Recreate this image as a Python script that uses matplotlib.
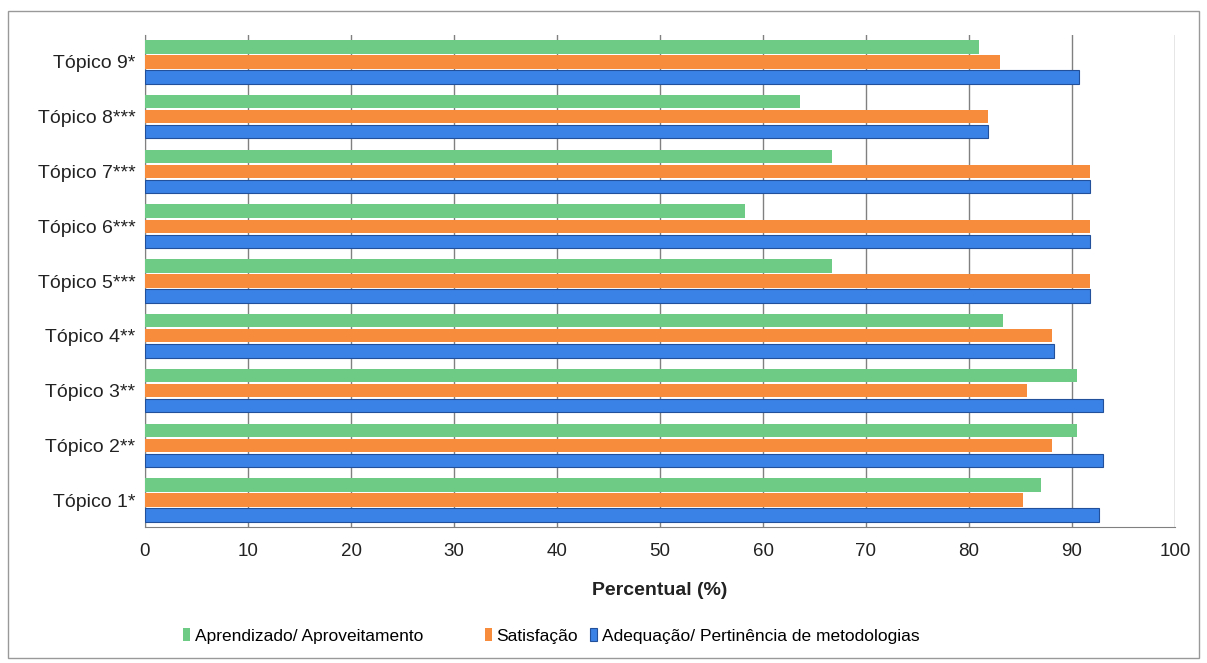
import matplotlib
matplotlib.use("Agg")
import matplotlib.pyplot as plt
import numpy as np
from matplotlib.patches import Rectangle, Patch

categories = ["Tópico 1*", "Tópico 2**", "Tópico 3**", "Tópico 4**", "Tópico 5***",
              "Tópico 6***", "Tópico 7***", "Tópico 8***", "Tópico 9*"]
aprendizado = [87.0, 90.5, 90.5, 83.3, 66.7, 58.3, 66.7, 63.6, 81.0]
satisfacao = [85.2, 88.1, 85.6, 88.1, 91.7, 91.7, 91.7, 81.8, 83.0]
adequacao = [92.6, 93.0, 93.0, 88.3, 91.7, 91.7, 91.7, 81.8, 90.7]
series_labels = ["Aprendizado/ Aproveitamento", "Satisfação",
                 "Adequação/ Pertinência de metodologias"]
xticks = list(range(0, 101, 10))

plt.rcParams['font.family'] = ['Liberation Sans', 'DejaVu Sans']

W, H = 1207, 663
fig = plt.figure(figsize=(W / 100, H / 100), dpi=100)
ax = fig.add_axes([145 / W, 1 - 527.4 / H, (1175 - 145) / W, (527.4 - 34.6) / H])

green = '#6dcb85'
orange = '#f68c3c'
blue = '#3b82e6'
blue_edge = '#22509a'

y = np.arange(len(categories))
step = 0.275
h = 0.245
ax.barh(y + step, aprendizado, height=h, color=green, zorder=3)
ax.barh(y, satisfacao, height=h, color=orange, zorder=3)
ax.barh(y - step, adequacao, height=h, color=blue, edgecolor=blue_edge, linewidth=0.8,
        zorder=3)

ax.set_xlim(0, 100)
ax.set_ylim(-0.5, len(categories) - 0.5)
ax.set_xticks(xticks)
ax.set_xticklabels([str(t) for t in xticks], fontsize=13.5, color='#222222')
ax.set_yticks(y)
ax.set_yticklabels(categories, fontsize=14, color='#222222')
ax.tick_params(axis='y', length=0, pad=7)
ax.tick_params(axis='x', length=0, pad=11)

ax.grid(axis='x', color='#808080', linewidth=1.0, zorder=0)
for s in ['top', 'right']:
    ax.spines[s].set_visible(False)
ax.spines['left'].set_color('#808080')
ax.spines['bottom'].set_color('#808080')

ax.set_xlabel("Percentual (%)", fontsize=14, fontweight='bold', labelpad=16, color='#222222')

handles = [Patch(facecolor=green), Patch(facecolor=orange),
           Patch(facecolor=blue, edgecolor=blue_edge, linewidth=0.8)]
xpos = [183, 485, 590]
for hd, lab, xp in zip(handles, series_labels, xpos):
    fig.legend([hd], [lab], loc='center left', bbox_to_anchor=(xp / W, 1 - 636 / H),
               frameon=False, fontsize=12.5, handlelength=0.42, handleheight=0.75,
               handletextpad=0.25, borderpad=0, borderaxespad=0)

fig.patches.append(Rectangle((8 / W, 1 - 658 / H), (1199 - 8) / W, (658 - 11) / H,
                             transform=fig.transFigure, fill=False,
                             edgecolor='#999999', linewidth=1.0))

fig.savefig("out.png", dpi=100, facecolor='white')
